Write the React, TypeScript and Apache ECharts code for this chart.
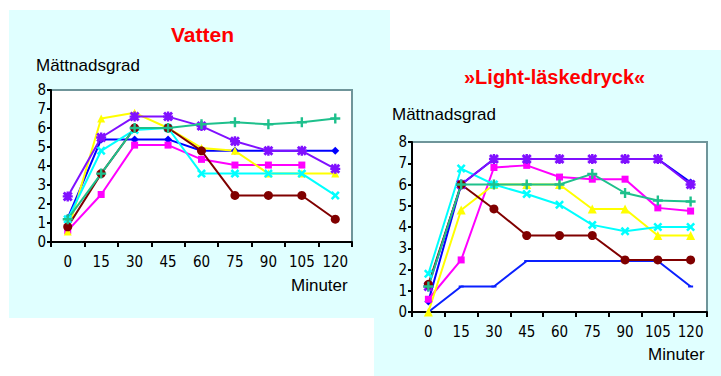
import React, { useEffect, useRef } from "react";
import * as echarts from "echarts";

const categories = ["0", "15", "30", "45", "60", "75", "90", "105", "120"];
const yTicks = [0, 1, 2, 3, 4, 5, 6, 7, 8];

// Vatten (left chart)
const vBlue = [1.25, 5.4, 5.4, 5.4, 4.8, 4.8, 4.8, 4.8, 4.8];
const vMagenta = [0.6, 2.5, 5.1, 5.1, 4.35, 4.05, 4.05, 4.05, null];
const vYellow = [0.55, 6.5, 6.8, 6.0, 4.95, 4.8, 3.6, 3.6, 3.6];
const vCyan = [1.2, 4.8, 5.9, 6.0, 3.6, 3.6, 3.6, 3.6, 2.45];
const vPurple = [2.4, 5.5, 6.6, 6.6, 6.1, 5.3, 4.8, 4.8, 3.85];
const vMaroon = [0.8, 3.6, 6.0, 6.0, 4.8, 2.45, 2.45, 2.45, 1.2];
const vGreen = [1.2, 3.6, 6.0, 6.0, 6.2, 6.3, 6.2, 6.3, 6.5];

// Light-läskedryck (right chart)
const lBlue = [0.5, 6.0, 7.2, 7.2, 7.2, 7.2, 7.2, 7.2, 6.1];
const lMagenta = [0.6, 2.45, 6.8, 6.9, 6.35, 6.25, 6.25, 4.9, 4.75];
const lYellow = [0.0, 4.8, 6.0, 6.0, 6.0, 4.85, 4.85, 3.6, 3.6];
const lCyan = [1.8, 6.75, 6.0, 5.55, 5.05, 4.1, 3.8, 4.0, 4.0];
const lPurple = [1.2, 6.0, 7.2, 7.2, 7.2, 7.2, 7.2, 7.2, 6.0];
const lMaroon = [1.3, 6.0, 4.85, 3.6, 3.6, 3.6, 2.45, 2.45, 2.45];
const lGreen = [1.2, 6.0, 6.0, 6.0, 6.0, 6.5, 5.6, 5.25, 5.2];
const lBlue2 = [0.0, 1.2, 1.2, 2.4, 2.4, 2.4, 2.4, 2.4, 1.2];

const X_PATH =
  "path://M0,2 L2,0 L5,3 L8,0 L10,2 L7,5 L10,8 L8,10 L5,7 L2,10 L0,8 L3,5 Z";
const PLUS_PATH = "path://M3.8,0 H6.2 V3.8 H10 V6.2 H6.2 V10 H3.8 V6.2 H0 V3.8 H3.8 Z";
const STAR_PATH =
  "path://M3.8,0 H6.2 V3.8 H10 V6.2 H6.2 V10 H3.8 V6.2 H0 V3.8 H3.8 Z M0,2 L2,0 L5,3 L8,0 L10,2 L7,5 L10,8 L8,10 L5,7 L2,10 L0,8 L3,5 Z";

const COND = "'DejaVu Sans Condensed', 'Liberation Sans Narrow', sans-serif";
const SANS = "'Liberation Sans', Arial, sans-serif";

function mk(name: string, data: (number | null)[], color: string, symbol: string, size: any, idx: number) {
  return {
    type: "line",
    name,
    data,
    xAxisIndex: idx,
    yAxisIndex: idx,
    symbol,
    symbolSize: size,
    showSymbol: true,
    connectNulls: false,
    lineStyle: { color, width: 2 },
    itemStyle: { color, borderWidth: 0 },
    emphasis: { disabled: true },
  };
}

function axes(idx: number) {
  const x = {
    type: "category",
    gridIndex: idx,
    data: categories,
    boundaryGap: true,
    axisLine: { show: true, lineStyle: { color: "#000", width: 2 } },
    axisTick: { show: true, alignWithLabel: false, interval: 0, length: 5, lineStyle: { color: "#000", width: 2 } },
    axisLabel: { color: "#000", fontFamily: COND, fontSize: 15, margin: 12, interval: 0 },
    splitLine: { show: false },
  };
  const y = {
    type: "value",
    gridIndex: idx,
    min: 0,
    max: 8,
    interval: 1,
    axisLine: { show: true, lineStyle: { color: "#000", width: 2 } },
    axisTick: { show: true, length: 4, lineStyle: { color: "#000", width: 2 } },
    axisLabel: { color: "#000", fontFamily: COND, fontSize: 15, margin: 5 },
    splitLine: { show: false },
  };
  return { x, y };
}

export default function App() {
  const ref = useRef<HTMLDivElement>(null);
  useEffect(() => {
    if (!ref.current) return;
    const chart = echarts.init(ref.current, undefined, { renderer: "svg", width: 721, height: 376 });
    const a0 = axes(0);
    const a1 = axes(1);
    const option: any = {
      animation: false,
      backgroundColor: "#ffffff",
      graphic: [
        { type: "rect", z: -10, shape: { x: 9, y: 10, width: 381, height: 308 }, style: { fill: "#e0ffff" } },
        { type: "rect", z: -10, shape: { x: 374, y: 50, width: 347, height: 326 }, style: { fill: "#e0ffff" } },
        {
          type: "text", left: 171, top: 24,
          style: { text: "Vatten", fill: "#ff0000", font: `bold 21px ${SANS}` },
        },
        {
          type: "text", left: 36, top: 57,
          style: { text: "Mättnadsgrad", fill: "#000", font: `17px ${SANS}` },
        },
        {
          type: "text", left: 291, top: 277,
          style: { text: "Minuter", fill: "#000", font: `17px ${SANS}` },
        },
        {
          type: "text", left: 464, top: 67,
          style: { text: "»Light-läskedryck«", fill: "#ff0000", font: `bold 20px ${SANS}` },
        },
        {
          type: "text", left: 392, top: 106,
          style: { text: "Mättnadsgrad", fill: "#000", font: `17px ${SANS}` },
        },
        {
          type: "text", left: 648, top: 346,
          style: { text: "Minuter", fill: "#000", font: `17px ${SANS}` },
        },
      ],
      grid: [
        { left: 51, top: 90, width: 301, height: 152, show: true, backgroundColor: "#ffffff", borderColor: "#6f959a", borderWidth: 2 },
        { left: 412, top: 142, width: 295, height: 170, show: true, backgroundColor: "#ffffff", borderColor: "#6f959a", borderWidth: 2 },
      ],
      xAxis: [a0.x, a1.x],
      yAxis: [a0.y, a1.y],
      series: [
        mk("blue", vBlue, "#0000ff", "diamond", 8, 0),
        mk("magenta", vMagenta, "#ff00ff", "rect", 7, 0),
        mk("yellow", vYellow, "#ffff00", "triangle", 8, 0),
        mk("cyan", vCyan, "#00ffff", X_PATH, 9, 0),
        mk("purple", vPurple, "#8010ff", STAR_PATH, 10, 0),
        mk("maroon", vMaroon, "#800000", "circle", 9, 0),
        mk("green", vGreen, "#1ec08c", PLUS_PATH, 10, 0),

        mk("blue2", lBlue2, "#0a20ff", "rect", [5, 2], 1),
        mk("blue", lBlue, "#0000ff", "diamond", 8, 1),
        mk("magenta", lMagenta, "#ff00ff", "rect", 7, 1),
        mk("yellow", lYellow, "#ffff00", "triangle", 9, 1),
        mk("cyan", lCyan, "#00ffff", X_PATH, 9, 1),
        mk("purple", lPurple, "#8010ff", STAR_PATH, 10, 1),
        mk("maroon", lMaroon, "#800000", "circle", 9, 1),
        mk("green", lGreen, "#1ec08c", PLUS_PATH, 10, 1),
      ],
    };
    chart.setOption(option);
    return () => chart.dispose();
  }, []);
  return (
    <div
      ref={ref}
      style={{ position: "fixed", left: 0, top: 0, width: 721, height: 376 }}
    />
  );
}
